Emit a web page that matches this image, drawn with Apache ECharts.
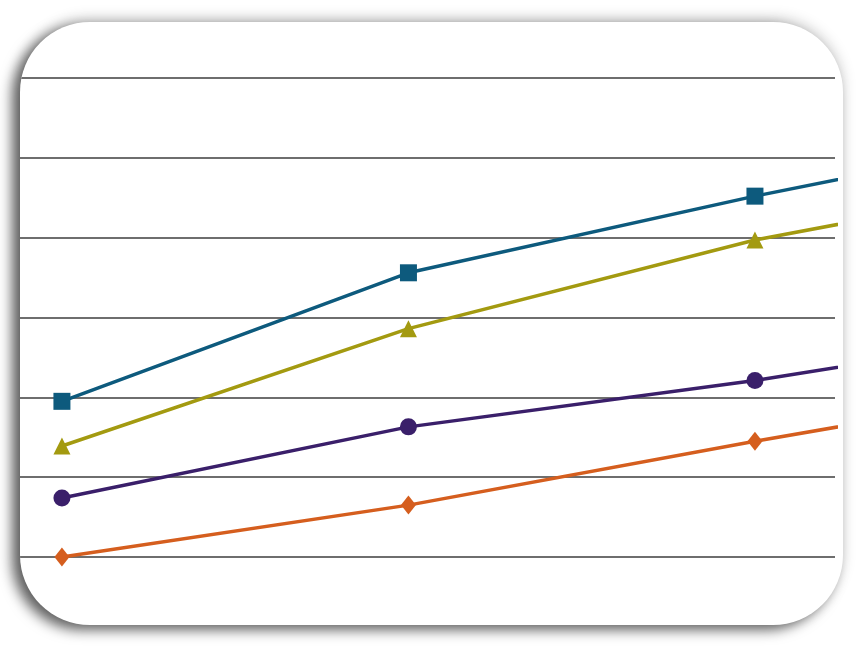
<!DOCTYPE html>
<html>
<head>
<meta charset="utf-8">
<script src="https://cdn.jsdelivr.net/npm/echarts@6/dist/echarts.min.js"></script>
<style>
html,body{margin:0;padding:0;width:859px;height:646px;background:#ffffff;overflow:hidden;}
#card{position:absolute;left:20px;top:22px;width:823px;height:603px;border-radius:70px;background:#fff;
box-shadow:-8px 5px 13px rgba(0,0,0,0.6), 0 -4px 14px rgba(0,0,0,0.18);overflow:hidden;}
#chart{position:absolute;left:0;top:0;width:823px;height:603px;}
</style>
</head>
<body>
<div id="card"><div id="chart"></div></div>
<script>
var categories = ['1', '2', '3', '4'];
var seriesBlue = [19.5, 35.6, 45.2, 53.9];
var seriesOlive = [13.9, 28.6, 39.7, 47.9];
var seriesPurple = [7.4, 16.3, 22.1, 29.1];
var seriesOrange = [0, 6.5, 14.5, 22.0];
var yTicks = [0, 10, 20, 30, 40, 50, 60];

function pts(arr){ return arr.map(function(v,i){ return [i, v]; }); }

var chart = echarts.init(document.getElementById('chart'));
function mk(name, data, color, symbol, size){
  return {name:name, type:'line', data:pts(data), symbol:symbol, symbolSize:size,
    lineStyle:{color:color, width:3.5}, itemStyle:{color:color}, clip:true, z:3};
}
chart.setOption({
  animation:false,
  backgroundColor:'transparent',
  grid:{left:0, right:8, top:56, bottom:68, containLabel:false},
  xAxis:{type:'value', min:-0.121, max:2.231, show:false, splitLine:{show:false}},
  yAxis:{type:'value', min:yTicks[0], max:yTicks[yTicks.length-1], interval:10,
    axisLine:{show:false}, axisTick:{show:false}, axisLabel:{show:false},
    splitLine:{show:true, lineStyle:{color:'#6e6e6e', width:2}}},
  series:[
    mk('A', seriesBlue, '#0d5a7d', 'rect', 17),
    mk('B', seriesOlive, '#a39a10', 'triangle', 17),
    mk('C', seriesPurple, '#3a1f6a', 'circle', 17),
    mk('D', seriesOrange, '#d55e1e', 'diamond', [15,19])
  ]
});
</script>
</body>
</html>
